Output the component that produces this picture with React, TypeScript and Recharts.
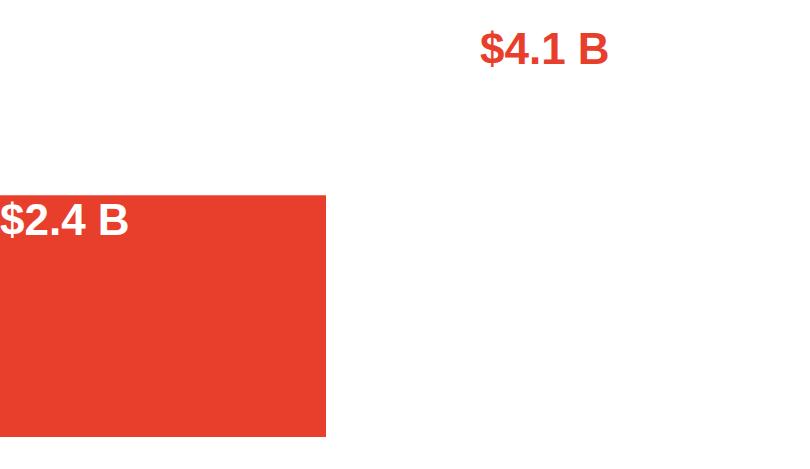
import React from "react";
import { BarChart, Bar, XAxis, YAxis, Cell, LabelList } from "recharts";

const categories = ["first", "second"];
const values = [2.4, 4.1];

const RED = "#E83E2C";
const barFills = [RED, "#FFFFFF"];
const labelFills = ["#FFFFFF", RED];

const data = categories.map((name, i) => ({ name, value: values[i] }));

const renderLabel = (props: any) => {
  const { x, y, value, index } = props;
  return (
    <text
      x={Number(x)}
      y={Number(y) + 40}
      fill={labelFills[index]}
      fontSize={44}
      fontWeight="bold"
      fontFamily="'Liberation Sans', Arial, Helvetica, sans-serif"
      textAnchor="start"
    >
      {`$${value} B`}
    </text>
  );
};

const App = () => {
  return (
    <div
      style={{
        position: "absolute",
        left: 0,
        top: 0,
        width: 810,
        height: 469,
        overflow: "hidden",
        background: "#fff",
      }}
    >
      <div style={{ position: "absolute", left: -77, top: 0 }}>
        <BarChart
          width={960}
          height={469}
          data={data}
          margin={{ top: 24, right: 0, bottom: 32, left: 0 }}
        >
          <XAxis dataKey="name" hide />
          <YAxis hide domain={[0, "dataMax"]} />
          <Bar dataKey="value" barSize={326} isAnimationActive={false}>
            {data.map((d, i) => (
              <Cell key={d.name} fill={barFills[i]} />
            ))}
            <LabelList dataKey="value" content={renderLabel} />
          </Bar>
        </BarChart>
      </div>
    </div>
  );
};

export default App;
